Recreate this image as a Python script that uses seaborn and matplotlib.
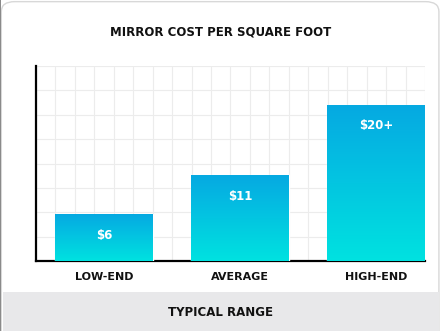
import numpy as np
import pandas as pd
import matplotlib
matplotlib.use('Agg')
import matplotlib.pyplot as plt
from matplotlib.colors import LinearSegmentedColormap
from matplotlib.patches import Rectangle, FancyBboxPatch
import seaborn as sns

# data
categories = ['LOW-END', 'AVERAGE', 'HIGH-END']
costs = [6, 11, 20]
cost_labels = ['$6', '$11', '$20+']

sns.set_theme(style='white')
plt.rcParams['font.family'] = ['DejaVu Sans']

fig = plt.figure(figsize=(4.42, 3.31), dpi=100)
fig.patch.set_facecolor('white')

# card outline + grey footer band
fig.patches.append(FancyBboxPatch((0.003, -0.05), 0.99, 1.045,
                                  boxstyle='round,pad=0,rounding_size=0.03',
                                  transform=fig.transFigure, facecolor='none',
                                  edgecolor='#d8d8d8', linewidth=1.0))
fig.patches.append(Rectangle((0.0, 0.0), 0.003, 1.0, transform=fig.transFigure,
                             facecolor='#8a8a8a', edgecolor='none'))
fig.patches.append(Rectangle((0.006, 0.0), 0.988, 0.118, transform=fig.transFigure,
                             facecolor='#e8e8ea', edgecolor='none'))

ax = fig.add_axes([0.0814, 0.2115, 0.8801, 0.589])
df = pd.DataFrame({'range': categories, 'cost': costs})
sns.barplot(data=df, x='range', y='cost', ax=ax, width=0.72,
            color='#10b8e0', saturation=1, zorder=3)

# vertical gradient inside each bar
cmap = LinearSegmentedColormap.from_list('mirror', ['#00e2e0', '#06a9e2'])
grad = np.linspace(0, 1, 256).reshape(-1, 1)
for bar, lab in zip(ax.patches, cost_labels):
    x0, y0 = bar.get_x(), bar.get_y()
    w, h = bar.get_width(), bar.get_height()
    im = ax.imshow(grad, cmap=cmap, aspect='auto', origin='lower',
                   extent=[x0, x0 + w, y0, y0 + h], zorder=4)
    im.set_clip_path(bar)
    ax.annotate(lab, (x0 + w / 2, y0 + h), xytext=(0, -15),
                textcoords='offset points', ha='center', va='center',
                color='white', fontweight='bold', fontsize=8.5, zorder=5)

xlo, xhi = -0.5, 2.36
ax.set_xlim(xlo, xhi)
ax.set_ylim(0, 25)

ax.set_xticks(np.linspace(xlo, xhi, 21), minor=True)
ax.set_yticks(np.arange(0, 25.01, 3.125))
ax.grid(False)
ax.xaxis.grid(True, which='minor', color='#ececec', linewidth=0.8)
ax.yaxis.grid(True, which='major', color='#ececec', linewidth=0.8)
ax.set_axisbelow(True)

ax.set_yticklabels([])
ax.tick_params(axis='both', which='both', length=0)
ax.tick_params(axis='x', pad=8)
for t in ax.get_xticklabels():
    t.set_fontweight('bold')
    t.set_fontsize(8)
    t.set_color('#111111')
ax.set_xlabel('')
ax.set_ylabel('')

for s in ['top', 'right']:
    ax.spines[s].set_visible(False)
for s in ['left', 'bottom']:
    ax.spines[s].set_color('black')
    ax.spines[s].set_linewidth(1.6)

fig.text(0.5, 0.903, 'MIRROR COST PER SQUARE FOOT', ha='center', va='center',
         fontsize=8.5, fontweight='bold', color='#111111')
fig.text(0.5, 0.0574, 'TYPICAL RANGE', ha='center', va='center',
         fontsize=8.5, fontweight='bold', color='#111111')

fig.savefig('out.png', dpi=100)
